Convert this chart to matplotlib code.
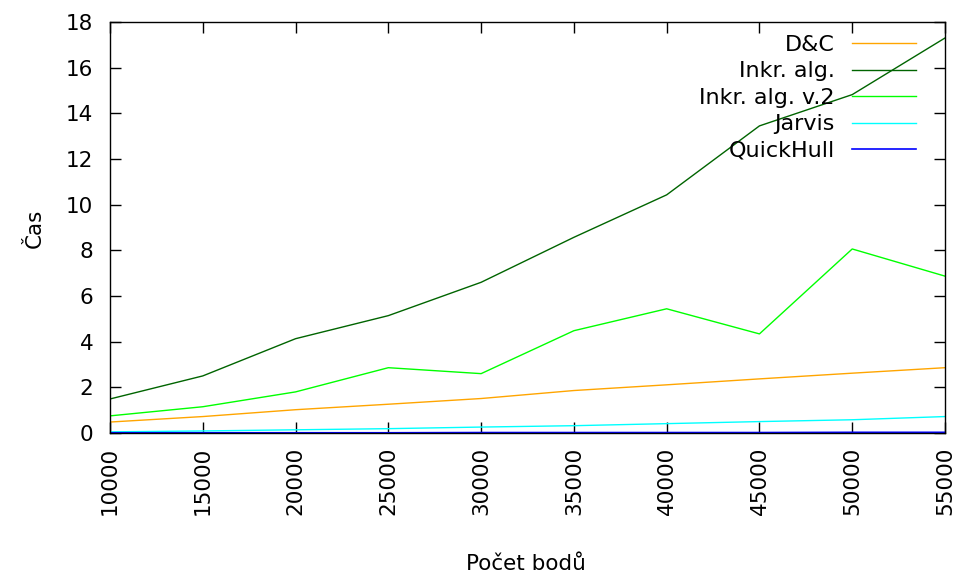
import matplotlib
matplotlib.use("Agg")
import matplotlib.pyplot as plt

# Počet bodů
body = [10000, 15000, 20000, 25000, 30000, 35000, 40000, 45000, 50000, 55000]

# časy jednotlivých algoritmů
dac = [0.48, 0.72, 1.02, 1.26, 1.51, 1.86, 2.11, 2.37, 2.62, 2.86]
inkr = [1.49, 2.50, 4.13, 5.14, 6.60, 8.57, 10.43, 13.45, 14.82, 17.30]
inkr_v2 = [0.75, 1.15, 1.80, 2.86, 2.60, 4.48, 5.44, 4.34, 8.06, 6.87]
jarvis = [0.05, 0.09, 0.14, 0.19, 0.26, 0.32, 0.41, 0.50, 0.58, 0.72]
quickhull = [0.01, 0.01, 0.01, 0.01, 0.02, 0.02, 0.02, 0.02, 0.03, 0.03]

plt.rcParams['font.family'] = ['DejaVu Sans']

fig = plt.figure(figsize=(9.55, 5.75), dpi=100)
ax = fig.add_axes([110 / 955, 1 - 433 / 575, 835 / 955, 411 / 575])

ax.plot(body, dac, color='#ffa500', lw=1, label='D&C')
ax.plot(body, inkr, color='#006400', lw=1, label='Inkr. alg.')
ax.plot(body, inkr_v2, color='#00ff00', lw=1, label='Inkr. alg. v.2')
ax.plot(body, jarvis, color='#00ffff', lw=1, label='Jarvis')
ax.plot(body, quickhull, color='#0000ff', lw=1.2, label='QuickHull')

ax.set_xlim(10000, 55000)
ax.set_ylim(0, 18)
ax.set_xticks(body)
ax.set_yticks(range(0, 19, 2))
ax.tick_params(direction='in', length=8, width=1, top=True, right=True,
               labelsize=15.5, colors='black')
ax.tick_params(axis='x', pad=10)
ax.tick_params(axis='y', pad=12)
for lbl in ax.get_xticklabels():
    lbl.set_rotation(90)

for s in ax.spines.values():
    s.set_linewidth(1)

# popisky os umístěné ručně (jako v gnuplotu)
fig.text(526 / 955, 1 - 564 / 575, 'Počet bodů', fontsize=15.5,
         ha='center', va='center')
fig.text(35 / 955, 1 - 228 / 575, 'Čas', fontsize=15.5, rotation=90,
         ha='center', va='center')

leg = ax.legend(loc='upper right', frameon=False, markerfirst=False,
                fontsize=16, handlelength=2.9, handletextpad=0.75,
                labelspacing=0.29, borderaxespad=0.0,
                bbox_to_anchor=(0.976, 0.99))
for t in leg.get_texts():
    t.set_ha('right')

fig.savefig('out.png', dpi=100)
